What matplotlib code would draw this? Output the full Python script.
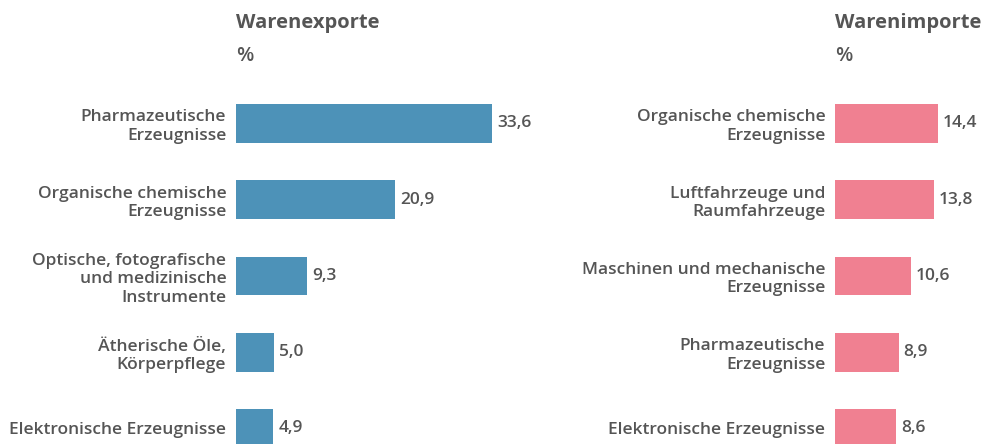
import matplotlib
matplotlib.use('Agg')
import matplotlib.pyplot as plt

plt.rcParams['font.family'] = ['Open Sans', 'DejaVu Sans']

# data
export_labels = ['Pharmazeutische\nErzeugnisse', 'Organische chemische\nErzeugnisse',
                 'Optische, fotografische\nund medizinische\nInstrumente',
                 'Ätherische Öle,\nKörperpflege', 'Elektronische Erzeugnisse']
export_values = [33.6, 20.9, 9.3, 5.0, 4.9]

import_labels = ['Organische chemische\nErzeugnisse', 'Luftfahrzeuge und\nRaumfahrzeuge',
                 'Maschinen und mechanische\nErzeugnisse', 'Pharmazeutische\nErzeugnisse',
                 'Elektronische Erzeugnisse']
import_values = [14.4, 13.8, 10.6, 8.9, 8.6]

text_col = '#555555'
W, H = 989, 444
fig = plt.figure(figsize=(W / 100, H / 100), dpi=100)


def panel(x0, px_per_unit, labels, values, color, title):
    width_px = 150 if px_per_unit < 7.4 else 330
    ax = fig.add_axes([x0 / W, (H - 466.6) / H, width_px / W, 381.25 / H])
    pos = list(range(len(values)))
    ax.barh(pos, values, height=0.51, color=color)
    ax.set_xlim(0, width_px / px_per_unit)
    ax.set_ylim(4.5, -0.5)
    ax.set_yticks(pos)
    ax.set_yticklabels(labels, fontsize=12.5, fontweight='semibold', color=text_col,
                       linespacing=1.2)
    ax.tick_params(axis='y', length=0, pad=7)
    ax.set_xticks([])
    for s in ax.spines.values():
        s.set_visible(False)
    for p, v in zip(pos, values):
        ax.text(v + 5 / px_per_unit, p, f'{v:.1f}'.replace('.', ','), va='center', ha='left',
                fontsize=12.5, fontweight='semibold', color=text_col)
    fig.text(x0 / W, 1 - 28 / H, title, ha='left', va='baseline', fontsize=14.5,
             fontweight='bold', color=text_col)
    fig.text(x0 / W, 1 - 61 / H, '%', ha='left', va='baseline', fontsize=14.5,
             fontweight='semibold', color=text_col)
    return ax


panel(236, 7.62, export_labels, export_values, '#4d92b8', 'Warenexporte')
panel(835, 7.14, import_labels, import_values, '#f08091', 'Warenimporte')

fig.savefig('out.png', dpi=100)
